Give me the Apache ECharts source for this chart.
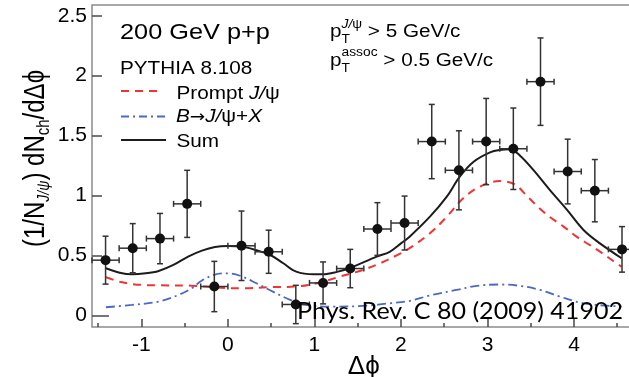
<!DOCTYPE html>
<html>
<head>
<meta charset="utf-8">
<script src="https://cdn.jsdelivr.net/npm/echarts@6/dist/echarts.min.js"></script>
<style>
html, body { margin: 0; padding: 0; background: #fff; }
#chart { width: 629px; height: 377px; }
</style>
</head>
<body>
<div id="chart"></div>
<script>
// Δϕ bin centres, per-trigger associated yields and their errors
const dphi = [-1.414, -1.100, -0.785, -0.471, -0.157, 0.157, 0.471, 0.785, 1.100, 1.414,
              1.728, 2.042, 2.356, 2.670, 2.985, 3.299, 3.613, 3.927, 4.241, 4.555];
const yieldVals = [0.46, 0.56, 0.64, 0.93, 0.24, 0.58, 0.53, 0.09, 0.27, 0.39,
                   0.72, 0.77, 1.45, 1.21, 1.45, 1.39, 1.95, 1.20, 1.04, 0.55];
const yieldErr = [0.20, 0.205, 0.21, 0.28, 0.21, 0.29, 0.18, 0.16, 0.175, 0.16,
                  0.22, 0.225, 0.31, 0.33, 0.36, 0.34, 0.365, 0.27, 0.26, 0.19];
const binHalfWidth = 0.157;

// PYTHIA 8.108 curves
const sumX = [-1.41, -1.25, -1.11, -0.95, -0.80, -0.63, -0.46, -0.30, -0.15, 0.00, 0.16, 0.32,
              0.49, 0.64, 0.79, 0.99, 1.10, 1.25, 1.41, 1.72, 1.87, 2.00, 2.10, 2.335, 2.53,
              2.68, 2.84, 3.03, 3.14, 3.26, 3.38, 3.53, 3.72, 3.92, 4.11, 4.30, 4.55];
const sumY = [0.392, 0.355, 0.342, 0.350, 0.370, 0.420, 0.490, 0.540, 0.570, 0.578, 0.573, 0.545,
              0.503, 0.434, 0.364, 0.342, 0.342, 0.360, 0.395, 0.490, 0.530, 0.600, 0.656, 0.823, 0.990,
              1.157, 1.282, 1.360, 1.380, 1.386, 1.330, 1.213, 1.046, 0.879, 0.712, 0.600, 0.476];

const promptX = [-1.41, -1.25, -1.11, -0.95, -0.80, -0.42, -0.15, 0.16, 0.52, 0.79, 1.03, 1.29,
                 1.56, 1.76, 1.95, 2.10, 2.335, 2.53, 2.72, 2.91, 3.14, 3.32, 3.45, 3.59, 3.72,
                 3.88, 4.03, 4.18, 4.33, 4.45, 4.55];
const promptY = [0.317, 0.280, 0.261, 0.252, 0.250, 0.247, 0.232, 0.225, 0.235, 0.240, 0.267, 0.322,
                 0.378, 0.434, 0.500, 0.560, 0.684, 0.823, 0.977, 1.073, 1.120, 1.090, 1.000, 0.900, 0.820,
                 0.740, 0.656, 0.587, 0.517, 0.455, 0.405];

const bX = [-1.41, -1.11, -0.80, -0.57, -0.42, -0.30, -0.15, 0.00, 0.14, 0.33, 0.52, 0.72, 0.91,
            1.22, 1.60, 1.87, 2.10, 2.335, 2.64, 2.875, 3.14, 3.38, 3.61, 3.84, 4.11, 4.42, 4.55];
const bY = [0.067, 0.086, 0.114, 0.170, 0.225, 0.290, 0.340, 0.350, 0.330, 0.267, 0.197, 0.128, 0.086,
            0.072, 0.080, 0.100, 0.120, 0.165, 0.211, 0.245, 0.257, 0.245, 0.211, 0.155, 0.100, 0.078, 0.075];

// axis ticks
const xTickLabels = [-1, 0, 1, 2, 3, 4];
const xMinorTicks = [-1.5, -0.5, 0.5, 1.5, 2.5, 3.5, 4.5];
const yTickLabels = [0, 0.5, 1, 1.5, 2, 2.5];
const yZeroTick = [0];

const X_MIN = -Math.PI / 2, X_MAX = 3 * Math.PI / 2;
const Y_MIN = -0.098, Y_MAX = 2.59;

const SANS = '"Liberation Sans", Arial, Helvetica, sans-serif';
const RED = '#ee3434';
const BLUE = '#4a68c4';
const BLACK = '#1c1c1c';
const AXIS_GREY = '#8c8c8c';
const TICK = '#4a4a4a';

const mctx = document.createElement('canvas').getContext('2d');
function measure(str, font) { mctx.font = font; return mctx.measureText(str).width; }

// canvas 'middle' baseline sits about 0.28 em above the alphabetic baseline
const MID = 0.28;

// lays out text pieces on a shared baseline starting at (o.x, o.y)
function run(pieces, o) {
  let x = 0;
  const children = [];
  for (const p of pieces) {
    const size = p.size || o.size;
    const font = (p.italic ? 'italic ' : '') + size + 'px ' + (p.family || o.family || SANS);
    children.push({
      type: 'text', x: x, y: (p.dy || 0) - MID * size, z: 100, silent: true,
      style: { text: p.t, font: font, fill: o.color || '#000', align: 'left', verticalAlign: 'middle' }
    });
    if (p.adv !== false) x += measure(p.t, font);
  }
  let sx = o.sx || 1;
  if (o.fitWidth) sx = o.fitWidth / x;
  return { type: 'group', x: o.x, y: o.y, rotation: o.rotation || 0,
           scaleX: sx, scaleY: o.sy || 1, z: 100, silent: true, children };
}

const STRETCH = 1.15;

const graphics = [
  run([{ t: '200 GeV p+p' }], { x: 120, y: 39.5, size: 22, sx: STRETCH }),
  run([{ t: 'PYTHIA 8.108' }], { x: 120, y: 74, size: 18, sx: STRETCH }),

  // legend
  { type: 'line', z: 100, silent: true, shape: { x1: 121, y1: 91, x2: 163, y2: 91 },
    style: { stroke: RED, lineWidth: 2, lineDash: [8, 6] } },
  run([{ t: 'Prompt ' }, { t: 'J/', italic: true }, { t: 'ψ' }], { x: 176.5, y: 99, size: 18, sx: STRETCH }),
  { type: 'line', z: 100, silent: true, shape: { x1: 121, y1: 116.5, x2: 166, y2: 116.5 },
    style: { stroke: BLUE, lineWidth: 1.8, lineDash: [8, 4, 2, 4] } },
  run([{ t: 'B', italic: true }, { t: '→', family: '"DejaVu Sans", sans-serif', size: 16, dy: -0.5 },
       { t: 'J/', italic: true }, { t: 'ψ' }, { t: '+' }, { t: 'X', italic: true }],
      { x: 176, y: 122.5, size: 18, sx: STRETCH }),
  { type: 'line', z: 100, silent: true, shape: { x1: 121, y1: 140, x2: 166, y2: 140 },
    style: { stroke: BLACK, lineWidth: 2 } },
  run([{ t: 'Sum' }], { x: 176.5, y: 147, size: 18, sx: STRETCH }),

  // kinematic cuts
  run([{ t: 'p' }, { t: 'T', size: 12, dy: 6, adv: false }, { t: 'J/', size: 12, dy: -9, italic: true },
       { t: 'ψ', size: 12, dy: -9 }, { t: ' > 5 GeV/c' }],
      { x: 330, y: 37.3, size: 18, sx: STRETCH }),
  run([{ t: 'p' }, { t: 'T', size: 12, dy: 5.7, adv: false }, { t: 'assoc', size: 12, dy: -10 },
       { t: ' > 0.5 GeV/c' }],
      { x: 330, y: 66, size: 18, sx: STRETCH }),

  // y-axis title, reading upwards
  run([{ t: '(1/N' }, { t: 'J/ψ', size: 14, dy: 4, italic: true }, { t: ') dN' },
       { t: 'ch', size: 15, dy: 4 }, { t: '/dΔϕ' }],
      { x: 44, y: 247, size: 24, rotation: Math.PI / 2, sy: 1.2 }),

  // reference
  run([{ t: 'Phys. Rev. C 80 (2009) 41902', family: 'Lato, "Open Sans", sans-serif' }],
      { x: 297, y: 318.3, size: 24, fitWidth: 326 })
];

const chart = echarts.init(document.getElementById('chart'), null, { renderer: 'canvas' });

const hiddenXAxis = {
  type: 'value', min: X_MIN, max: X_MAX, gridIndex: 0, position: 'bottom',
  axisLine: { show: false, onZero: false }, splitLine: { show: false },
  axisLabel: { show: false }
};

chart.setOption({
  animation: false,
  backgroundColor: '#fff',
  grid: {
    left: 92, top: 5, bottom: 50,
    right: 629 - 92 - (X_MAX - X_MIN) * 86.52,
    show: true, borderColor: AXIS_GREY, borderWidth: 1.5, backgroundColor: 'transparent',
    containLabel: false, outerBoundsMode: 'none'
  },
  xAxis: [
    {
      type: 'value', min: X_MIN, max: X_MAX, position: 'bottom',
      axisLine: { show: false, onZero: false },
      splitLine: { show: false },
      axisTick: { show: true, inside: true, length: 8, customValues: xTickLabels,
                  lineStyle: { color: TICK, width: 1.5 } },
      axisLabel: { show: true, customValues: xTickLabels, margin: 8, color: '#000',
                   fontSize: 21, fontFamily: SANS },
      name: 'Δϕ', nameLocation: 'middle', nameGap: 27, nameMoveOverlap: false,
      nameTextStyle: { fontSize: 26, fontFamily: SANS, color: '#000' }
    },
    Object.assign({}, hiddenXAxis, {
      axisTick: { show: true, inside: true, length: 4, customValues: xMinorTicks,
                  lineStyle: { color: TICK, width: 1.5 } }
    })
  ],
  yAxis: [
    {
      type: 'value', min: Y_MIN, max: Y_MAX, position: 'left',
      axisLine: { show: false, onZero: false },
      splitLine: { show: false },
      axisTick: { show: true, inside: true, length: 10, customValues: yTickLabels,
                  lineStyle: { color: TICK, width: 1.5 } },
      axisLabel: { show: true, customValues: yTickLabels, margin: 5, color: '#000',
                   fontSize: 21, fontFamily: SANS }
    },
    {
      type: 'value', min: Y_MIN, max: Y_MAX, position: 'left',
      axisLine: { show: false, onZero: false }, splitLine: { show: false },
      axisLabel: { show: false },
      axisTick: { show: true, inside: true, length: 17, customValues: yZeroTick,
                  lineStyle: { color: TICK, width: 1.5 } }
    }
  ],
  series: [
    {
      name: 'Prompt J/ψ', type: 'line', z: 2, smooth: 0.35, symbol: 'none', silent: true,
      data: promptX.map((x, i) => [x, promptY[i]]),
      lineStyle: { color: RED, width: 2, type: [8, 6] }
    },
    {
      name: 'B→J/ψ+X', type: 'line', z: 2, smooth: 0.35, symbol: 'none', silent: true,
      data: bX.map((x, i) => [x, bY[i]]),
      lineStyle: { color: BLUE, width: 1.8, type: [9, 4, 2, 4] }
    },
    {
      name: 'Sum', type: 'line', z: 2, smooth: 0.35, symbol: 'none', silent: true,
      data: sumX.map((x, i) => [x, sumY[i]]),
      lineStyle: { color: BLACK, width: 2 }
    },
    {
      name: 'errors', type: 'custom', z: 3, silent: true, clip: false,
      data: dphi.map((x, i) => [x, yieldVals[i], binHalfWidth, yieldErr[i]]),
      encode: { x: 0, y: 1 },
      renderItem: function (params, api) {
        const x = api.value(0), y = api.value(1), ex = api.value(2), ey = api.value(3);
        const L = api.coord([x - ex, y]), R = api.coord([x + ex, y]);
        const T = api.coord([x, y + ey]), B = api.coord([x, y - ey]);
        const st = { stroke: '#333', lineWidth: 1.5 };
        const c = 3;
        return {
          type: 'group',
          children: [
            { type: 'line', shape: { x1: L[0], y1: L[1], x2: R[0], y2: R[1] }, style: st },
            { type: 'line', shape: { x1: T[0], y1: T[1], x2: B[0], y2: B[1] }, style: st },
            { type: 'line', shape: { x1: T[0] - c, y1: T[1], x2: T[0] + c, y2: T[1] }, style: st },
            { type: 'line', shape: { x1: B[0] - c, y1: B[1], x2: B[0] + c, y2: B[1] }, style: st },
            { type: 'line', shape: { x1: L[0], y1: L[1] - c, x2: L[0], y2: L[1] + c }, style: st },
            { type: 'line', shape: { x1: R[0], y1: R[1] - c, x2: R[0], y2: R[1] + c }, style: st }
          ]
        };
      }
    },
    {
      name: 'data', type: 'scatter', z: 4, silent: true,
      symbol: 'circle', symbolSize: 10,
      data: dphi.map((x, i) => [x, yieldVals[i]]),
      itemStyle: { color: '#111', opacity: 1 }
    }
  ],
  graphic: { elements: graphics }
});
</script>
</body>
</html>
